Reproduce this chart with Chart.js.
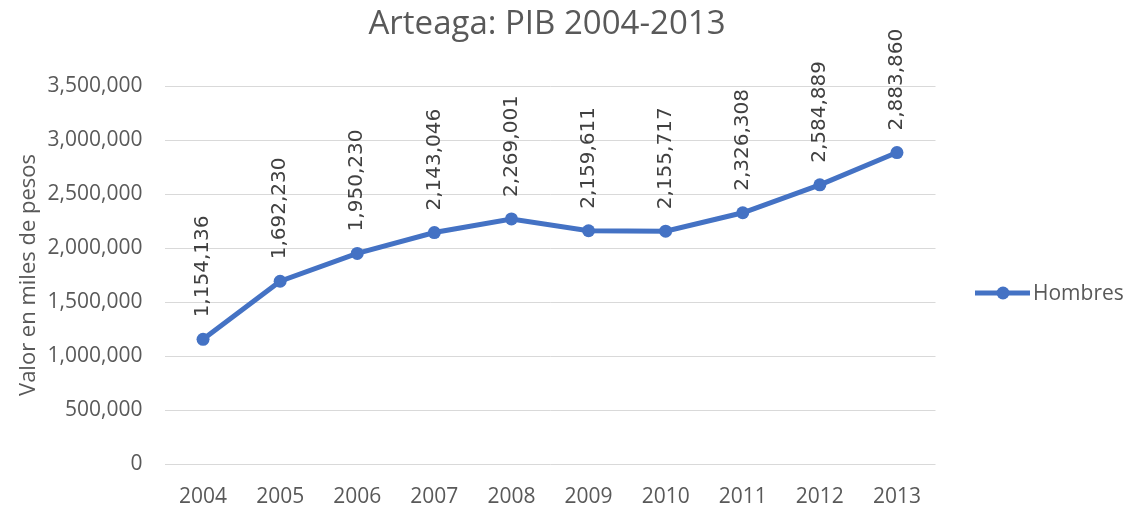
<!DOCTYPE html>
<html><head><meta charset="utf-8">
<script src="https://cdn.jsdelivr.net/npm/chart.js@4/dist/chart.umd.min.js"></script>
<style>html,body{margin:0;padding:0;background:#fff}#wrap{width:1124px;height:505px}</style>
</head><body><div id="wrap"><canvas id="c" width="1124" height="505"></canvas></div>
<script>
const years = ['2004','2005','2006','2007','2008','2009','2010','2011','2012','2013'];
const hombres = [1154136, 1692230, 1950230, 2143046, 2269001, 2159611, 2155717, 2326308, 2584889, 2883860];
const seriesName = 'Hombres';
const titleText = 'Arteaga: PIB 2004-2013';
const yTitle = 'Valor en miles de pesos';
const yMax = 3500000, yStep = 500000;

const BLUE = '#4472C4', TXT = '#595959';
const fmt = v => v.toLocaleString('en-US');

const labelPlugin = {
  id: 'vlabels',
  afterDatasetsDraw(chart) {
    const ctx = chart.ctx;
    const meta = chart.getDatasetMeta(0);
    ctx.save();
    ctx.font = '20px "DejaVu Sans"';
    ctx.fillStyle = '#404040';
    ctx.textAlign = 'left';
    ctx.textBaseline = 'middle';
    meta.data.forEach((pt, i) => {
      ctx.save();
      ctx.translate(pt.x, pt.y - 22);
      ctx.rotate(-Math.PI / 2);
      ctx.fillText(fmt(chart.data.datasets[0].data[i]), 0, 0);
      ctx.restore();
    });
    ctx.restore();
  }
};

const titlePlugin = {
  id: 'customTitle',
  afterDraw(chart) {
    const ctx = chart.ctx;
    ctx.save();
    ctx.font = '33px "Open Sans"';
    ctx.fillStyle = TXT;
    ctx.textAlign = 'center';
    ctx.textBaseline = 'middle';
    ctx.fillText(titleText, 547, 25);
    ctx.restore();
  }
};

const legendPlugin = {
  id: 'customLegend',
  afterDraw(chart) {
    const ctx = chart.ctx;
    const ds = chart.data.datasets[0];
    const y = 293;
    ctx.save();
    ctx.strokeStyle = ds.borderColor;
    ctx.lineWidth = 5;
    ctx.beginPath(); ctx.moveTo(975, y); ctx.lineTo(1030, y); ctx.stroke();
    ctx.fillStyle = ds.borderColor;
    ctx.beginPath(); ctx.arc(1003, y, 6.5, 0, Math.PI * 2); ctx.fill();
    ctx.font = '21px "Open Sans"';
    ctx.fillStyle = TXT;
    ctx.textAlign = 'left';
    ctx.textBaseline = 'middle';
    ctx.fillText(ds.label, 1033, y + 1);
    ctx.restore();
  }
};

new Chart(document.getElementById('c'), {
  type: 'line',
  data: {
    labels: years,
    datasets: [{
      label: seriesName,
      data: hombres,
      borderColor: BLUE,
      backgroundColor: BLUE,
      borderWidth: 5,
      pointRadius: 6.5,
      pointBackgroundColor: BLUE,
      pointBorderColor: BLUE,
      pointBorderWidth: 0,
      tension: 0,
      clip: false
    }]
  },
  options: {
    responsive: false,
    animation: false,
    layout: { padding: { left: 16, right: 188.5, top: 86, bottom: 0 } },
    plugins: {
      legend: { display: false },
      tooltip: { enabled: false },
      title: { display: false }
    },
    scales: {
      x: {
        offset: true,
        grid: { display: false },
        border: { display: false },
        ticks: { color: TXT, font: { family: 'Open Sans', size: 21 }, padding: 12, maxRotation: 0 },
        afterFit(scale) { scale.height = 41; }
      },
      y: {
        min: 0, max: yMax,
        grid: { color: '#d9d9d9', lineWidth: 1, drawTicks: false },
        border: { display: false },
        ticks: { stepSize: yStep, color: TXT, font: { family: 'Open Sans', size: 21 }, padding: 22, callback: v => fmt(v) },
        title: { display: true, text: yTitle, color: TXT, font: { family: 'Open Sans', size: 22 }, padding: { top: 0, bottom: 6 } },
        afterFit(scale) { scale.width = 148.5; }
      }
    }
  },
  plugins: [labelPlugin, titlePlugin, legendPlugin]
});
</script>
</body></html>
